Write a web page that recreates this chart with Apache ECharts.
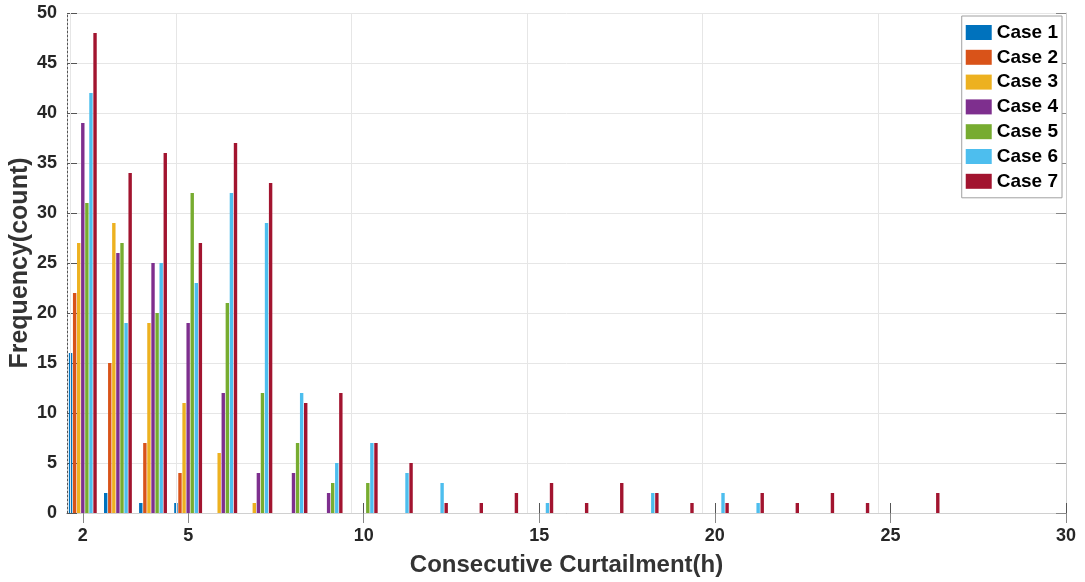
<!DOCTYPE html>
<html>
<head>
<meta charset="utf-8">
<script src="https://cdn.jsdelivr.net/npm/echarts@6/dist/echarts.min.js"></script>
<style>
html,body{margin:0;padding:0;background:#fff;}
#chart{width:1085px;height:582px;}
</style>
</head>
<body>
<div id="chart"></div>
<script>
// Data
const hours = [2,3,4,5,6,7,8,9,10,11,12,13,14,15,16,17,18,19,20,21,22,23,24,25,26];
const case1 = [16,2,1,1,0,0,0,0,0,0,0,0,0,0,0,0,0,0,0,0,0,0,0,0,0];
const case2 = [22,15,7,4,0,0,0,0,0,0,0,0,0,0,0,0,0,0,0,0,0,0,0,0,0];
const case3 = [27,29,19,11,6,1,0,0,0,0,0,0,0,0,0,0,0,0,0,0,0,0,0,0,0];
const case4 = [39,26,25,19,12,4,4,2,0,0,0,0,0,0,0,0,0,0,0,0,0,0,0,0,0];
const case5 = [31,27,20,32,21,12,7,3,3,0,0,0,0,0,0,0,0,0,0,0,0,0,0,0,0];
const case6 = [42,19,25,23,32,29,12,5,7,4,3,0,0,1,0,0,2,0,2,1,0,0,0,0,0];
const case7 = [48,34,36,27,37,33,11,12,7,5,1,1,2,3,1,3,2,1,1,2,1,2,1,0,2];
const caseNames = ['Case 1','Case 2','Case 3','Case 4','Case 5','Case 6','Case 7'];
const xTicks = [2,5,10,15,20,25,30];

const colors = ['#0072BD','#D95319','#EDB120','#7E2F8E','#77AC30','#4DBEEE','#A2142F'];
const allCases = [case1,case2,case3,case4,case5,case6,case7];
const font = 'Arial, "Liberation Sans", Helvetica, sans-serif';

const series = allCases.map((vals, i) => ({
  name: caseNames[i],
  type: 'bar',
  xAxisIndex: 0,
  yAxisIndex: 0,
  barWidth: 3.4,
  barGap: '20%',
  itemStyle: {color: colors[i]},
  data: hours.map((h, k) => [h, vals[k]]),
  silent: true,
  markLine: i === 0 ? {
    silent: true,
    symbol: 'none',
    label: {show: false},
    lineStyle: {color: '#e6e6e6', type: 'solid', width: 1},
    data: xTicks.slice(1, -1).map(v => ({xAxis: v})).concat([{xAxis: 2}])
  } : undefined,
  z: 3
}));

const chart = echarts.init(document.getElementById('chart'), null, {renderer: 'canvas'});
chart.setOption({
  animation: false,
  backgroundColor: '#ffffff',
  color: colors,
  grid: {left: 67, right: 19, top: 13, bottom: 69, containLabel: false, outerBoundsMode: 'none'},
  legend: {
    orient: 'vertical',
    right: 23,
    top: 16,
    itemWidth: 26,
    itemHeight: 15,
    itemGap: 5.8,
    icon: 'rect',
    padding: [7, 4, 7, 4],
    borderColor: '#a0a0a0',
    borderWidth: 1,
    backgroundColor: '#ffffff',
    textStyle: {fontFamily: font, fontSize: 19, fontWeight: 'bold', color: '#000'},
    data: caseNames
  },
  xAxis: [{
    type: 'value',
    min: 1.55,
    max: 30,
    position: 'bottom',
    name: 'Consecutive Curtailment(h)',
    nameLocation: 'middle',
    nameGap: 40,
    nameMoveOverlap: false,
    nameTextStyle: {fontFamily: font, fontSize: 24, fontWeight: 'bold', color: '#333'},
    axisLine: {show: true, lineStyle: {color: '#555', type: [2, 2], width: 1}},
    axisTick: {show: true, inside: true, length: 10, lineStyle: {color: '#555'}, customValues: xTicks},
    axisLabel: {fontFamily: font, fontSize: 18, fontWeight: 'bold', color: '#262626', margin: 14, customValues: xTicks},
    splitLine: {show: false}
  }, {
    type: 'value',
    min: 1.55,
    max: 30,
    position: 'top',
    axisLine: {show: true, lineStyle: {color: '#d0d0d0', width: 1}},
    axisTick: {show: true, inside: true, length: 10, lineStyle: {color: '#888'}, customValues: xTicks},
    axisLabel: {show: false},
    splitLine: {show: false}
  }],
  yAxis: [{
    type: 'value',
    min: 0,
    max: 50,
    interval: 5,
    position: 'left',
    name: 'Frequency(count)',
    nameLocation: 'middle',
    nameGap: 34,
    nameMoveOverlap: false,
    nameRotate: 90,
    nameTextStyle: {fontFamily: font, fontSize: 25, fontWeight: 'bold', color: '#333'},
    axisLine: {show: true, lineStyle: {color: '#555', type: [2, 2], width: 1}},
    axisTick: {show: true, inside: true, length: 10, lineStyle: {color: '#555'}},
    axisLabel: {fontFamily: font, fontSize: 18, fontWeight: 'bold', color: '#262626', margin: 10},
    splitLine: {show: true, lineStyle: {color: '#e6e6e6', width: 1}}
  }, {
    type: 'value',
    min: 0,
    max: 50,
    interval: 5,
    position: 'right',
    axisLine: {show: true, lineStyle: {color: '#d0d0d0', width: 1}},
    axisTick: {show: true, inside: true, length: 10, lineStyle: {color: '#888'}},
    axisLabel: {show: false},
    splitLine: {show: false}
  }],
  series: series
});
</script>
</body>
</html>
